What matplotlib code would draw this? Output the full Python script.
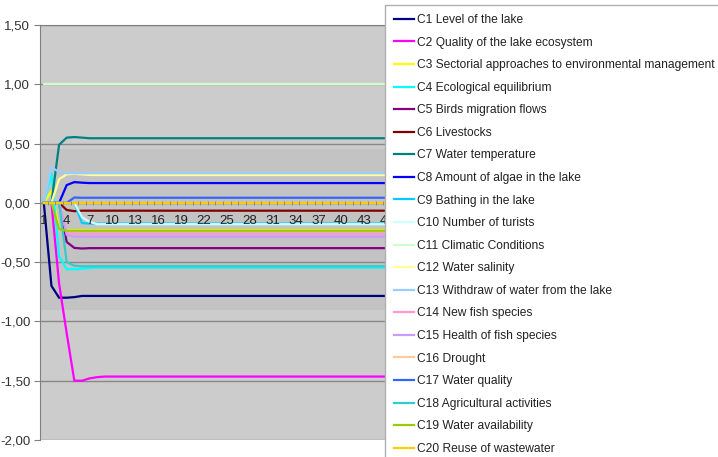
# Lake system simulation - concept values over iterations
import matplotlib
matplotlib.use("Agg")
import matplotlib.pyplot as plt
from matplotlib.ticker import FixedLocator, FuncFormatter

plt.rcParams['font.family'] = ['Liberation Sans', 'DejaVu Sans']

N_ITER = 87
iterations = list(range(1, N_ITER + 1))

labels = [
    "C1 Level of the lake",
    "C2 Quality of the lake ecosystem",
    "C3 Sectorial approaches to environmental management",
    "C4 Ecological equilibrium",
    "C5 Birds migration flows",
    "C6 Livestocks",
    "C7 Water temperature",
    "C8 Amount of algae in the lake",
    "C9 Bathing in the lake",
    "C10 Number of turists",
    "C11 Climatic Conditions",
    "C12 Water salinity",
    "C13 Withdraw of water from the lake",
    "C14 New fish species",
    "C15 Health of fish species",
    "C16 Drought",
    "C17 Water quality",
    "C18 Agricultural activities",
    "C19 Water availability",
    "C20 Reuse of wastewater",
]

# Excel 2003 default series colours
colors = ["#000080", "#FF00FF", "#FFFF00", "#00FFFF", "#800080",
          "#800000", "#008080", "#0000FF", "#00CCFF", "#CCFFFF",
          "#CCFFCC", "#FFFF99", "#99CCFF", "#FF99CC", "#CC99FF",
          "#FFCC99", "#3366FF", "#33CCCC", "#99CC00", "#FFCC00"]

c1 = [0.0, -0.70, -0.80, -0.80, -0.795, -0.785]
c2 = [0.0, 0.0, -0.68, -1.10, -1.50, -1.50, -1.48, -1.47, -1.465]
c3 = [0.0, 0.10, -0.22, -0.23]
c4 = [0.0, 0.25, -0.45, -0.56, -0.56, -0.555, -0.55, -0.545]
c5 = [0.0, 0.0, 0.0, -0.33, -0.38, -0.385, -0.382]
c6 = [0.0, 0.0, 0.0, -0.06, -0.07, -0.066]
c7 = [0.0, 0.0, 0.49, 0.55, 0.555, 0.55, 0.545]
c8 = [0.0, 0.0, 0.0, 0.15, 0.175, 0.17, 0.167]
c9 = [0.0, 0.0, 0.0, 0.0, 0.0, -0.17, -0.175]
c10 = [0.0, 0.0, 0.0, 0.0, 0.0, -0.12, -0.16, -0.18]
c11 = [1.0]
c12 = [0.0, 0.0, 0.20, 0.24, 0.245, 0.24, 0.235]
c13 = [0.0, 0.30, 0.26, 0.25]
c14 = [0.0, 0.0, 0.0, -0.25, -0.26]
c15 = [0.0, 0.0, 0.0, -0.27, -0.285]
c16 = [0.0]
c17 = [0.0, 0.0, 0.0, 0.0, 0.045, 0.043]
c18 = [0.0, 0.0, 0.0, -0.50, -0.53, -0.535]
c19 = [0.0, 0.0, -0.22, -0.235]
c20 = [0.0]

series = [c1, c2, c3, c4, c5, c6, c7, c8, c9, c10,
          c11, c12, c13, c14, c15, c16, c17, c18, c19, c20]

# category labels that are not hidden by the legend
x_labels = [i for i in iterations[::3] if i <= 46]


def pad(vals):
    return vals + [vals[-1]] * (N_ITER - len(vals))


fig = plt.figure(figsize=(7.18, 4.57), dpi=100)
W, H = 718, 457
ax = fig.add_axes([40 / W, 1 - 440 / H, N_ITER * 7.63 / W, 415 / H])

ax.set_facecolor("#cccccc")
ax.axhspan(-0.9, 0.45, color="#c3c3c3", zorder=0, lw=0)

for vals, lab, col in zip(series, labels, colors):
    ax.plot(iterations, pad(vals), color=col, lw=1.6, label=lab)

ax.set_xlim(0.5, N_ITER + 0.5)
ax.set_ylim(-2.0, 1.5)
ax.yaxis.set_major_locator(FixedLocator([-2.0, -1.5, -1.0, -0.5, 0.0, 0.5, 1.0, 1.5]))
ax.yaxis.set_major_formatter(FuncFormatter(lambda v, p: f"{v:.2f}".replace(".", ",")))
for yv in ax.get_yticks():
    ax.axhline(yv, color="#888888", lw=1.0, zorder=1)

# category axis crossing at zero
ax.spines['bottom'].set_position(('data', 0))
ax.spines['bottom'].set_color("#808080")
ax.spines['bottom'].set_zorder(1.5)
ax.set_axisbelow(False)
ax.xaxis.set_major_locator(FixedLocator(x_labels))
ax.xaxis.set_minor_locator(FixedLocator([i + 0.5 for i in range(N_ITER)]))
ax.tick_params(axis='x', which='major', length=0, pad=9, labelsize=9.5, labelcolor="#222222")
ax.tick_params(axis='x', which='minor', direction='inout', length=3.5, width=0.7, color="#8a8a8a")
ax.tick_params(axis='y', length=4, width=0.8, color="#808080", labelsize=9.5, labelcolor="#333333", pad=3)

for side in ['left', 'top', 'right']:
    ax.spines[side].set_color("#808080")

leg = fig.legend(loc='upper left', bbox_to_anchor=(385 / W, 1 - 5 / H),
                 bbox_transform=fig.transFigure, borderaxespad=0,
                 fontsize=8.65, frameon=True, fancybox=False, framealpha=1,
                 edgecolor="#b0b0b0", handlelength=1.65, handletextpad=0.3,
                 labelspacing=0.88, borderpad=0.75)
leg.get_frame().set_linewidth(1.0)
for t in leg.get_texts():
    t.set_color("#222222")

fig.savefig("out.png", dpi=100)
